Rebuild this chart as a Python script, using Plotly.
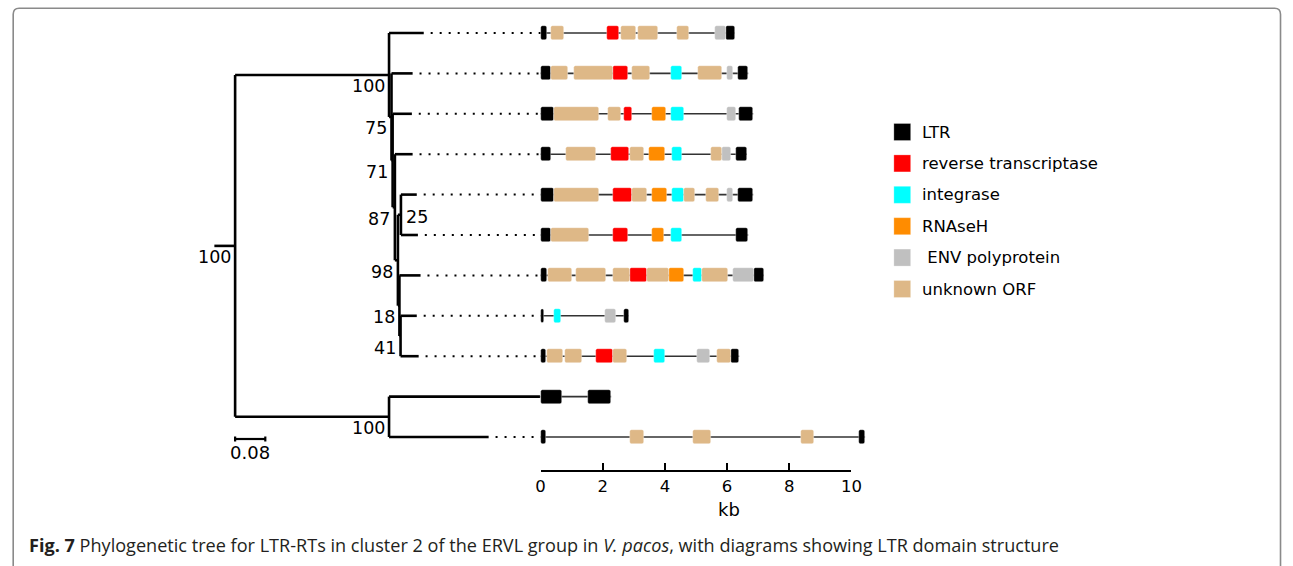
import plotly.graph_objects as go

W, H = 1293, 566

# ---------------- data ----------------
# phylogenetic tree (parent links and branch lengths, substitutions/site)
node_names = ["root", "A", "B", "C", "D", "E", "F", "G", "H", "K",
              "L1", "L2", "L3", "L4", "L5", "L6", "L7", "L8", "L9", "L10", "L11"]
node_parents = [None, "root", "A", "B", "C", "D", "E", "E", "G", "root",
                "A", "B", "C", "D", "F", "F", "G", "H", "H", "K", "K"]
branch_lengths = [0.055, 0.408, 0.0065, 0.003, 0.006, 0.008, 0.008, 0.004, 0.003, 0.408,
                  0.092, 0.056, 0.051, 0.047, 0.042, 0.045, 0.056, 0.043, 0.048, 0.400, 0.264]
support_nodes = ["root", "A", "B", "C", "D", "E", "F", "G", "H", "K"]
support_values = ["100", "100", "75", "71", "87", "98", "25", "18", "41", "100"]
leaf_order = ["L1", "L2", "L3", "L4", "L5", "L6", "L7", "L8", "L9", "L10", "L11"]
scale_bar_length = 0.08

# element lengths (kb) per row
element_ends = [6.24, 6.68, 6.84, 6.64, 6.84, 6.68, 7.18, 2.83, 6.39, 2.27, 10.44]

# domains: (row, start kb, end kb)
ltr = [(0, 0, 0.21), (0, 5.95, 6.24), (1, 0, 0.32), (1, 6.35, 6.68),
       (2, 0, 0.43), (2, 6.39, 6.84), (3, 0, 0.32), (3, 6.30, 6.64),
       (4, 0, 0.43), (4, 6.35, 6.84), (5, 0, 0.32), (5, 6.30, 6.68),
       (6, 0, 0.21), (6, 6.88, 7.18), (7, 0, 0.12), (7, 2.68, 2.83),
       (8, 0, 0.17), (8, 6.14, 6.39), (9, 0, 0.68), (9, 1.53, 2.27),
       (10, 0, 0.16), (10, 10.26, 10.44)]
reverse_transcriptase = [(0, 2.13, 2.52), (1, 2.33, 2.82), (2, 2.68, 2.93), (3, 2.28, 2.83),
                         (4, 2.33, 2.93), (5, 2.33, 2.82), (6, 2.88, 3.42), (8, 1.77, 2.33)]
integrase = [(1, 4.19, 4.54), (2, 4.19, 4.63), (3, 4.24, 4.54), (4, 4.24, 4.63),
             (5, 4.19, 4.54), (6, 4.89, 5.18), (7, 0.43, 0.67), (8, 3.64, 3.99)]
rnaseh = [(2, 3.58, 4.03), (3, 3.49, 3.99), (4, 3.58, 4.07), (5, 3.58, 3.97), (6, 4.13, 4.63)]
env_polyprotein = [(0, 5.60, 5.95), (1, 5.99, 6.19), (2, 5.99, 6.29), (3, 5.84, 6.14),
                   (4, 5.99, 6.19), (6, 6.19, 6.88), (7, 2.08, 2.42), (8, 5.04, 5.44)]
unknown_orf = [(0, 0.32, 0.76), (0, 2.59, 3.07), (0, 3.13, 3.77), (0, 4.39, 4.78),
               (1, 0.33, 0.87), (1, 1.07, 2.33), (1, 2.94, 3.53), (1, 5.08, 5.83),
               (2, 0.43, 1.87), (2, 2.18, 2.58),
               (3, 0.83, 1.78), (3, 2.88, 3.33), (3, 5.49, 5.84),
               (4, 0.43, 1.87), (4, 2.93, 3.42), (4, 4.63, 4.98), (4, 5.33, 5.74),
               (5, 0.32, 1.57),
               (6, 0.24, 1.02), (6, 1.13, 2.12), (6, 2.33, 2.88), (6, 3.42, 4.13), (6, 5.18, 6.03),
               (8, 0.22, 0.72), (8, 0.78, 1.33), (8, 2.33, 2.78), (8, 5.69, 6.14),
               (10, 2.88, 3.33), (10, 4.89, 5.49), (10, 8.38, 8.80)]

legend_labels = ["LTR", "reverse transcriptase", "integrase", "RNAseH", " ENV polyprotein", "unknown ORF"]
kb_ticks = [0, 2, 4, 6, 8, 10]

# ---------------- styles / layout constants ----------------
domain_series = [ltr, reverse_transcriptase, integrase, rnaseh, env_polyprotein, unknown_orf]
domain_colors = ["#000000", "#ff0000", "#00ffff", "#ff8c00", "#c0c0c0", "#deb887"]

PX_ROOT, PX_PER_UNIT = 233.0, 382.0        # tree axis mapping
PX_KB0, PX_PER_KB = 542.3, 31.47           # kb axis mapping
ROW0_PX, PX_PER_ROW = 33.0, 40.4           # row mapping
AXIS_LINE_PX = 471.0
FONT = "DejaVu Sans"

# ---------------- tree layout ----------------
parent = dict(zip(node_names, node_parents))
blen = dict(zip(node_names, branch_lengths))
children = {n: [] for n in node_names}
for n, p in zip(node_names, node_parents):
    if p is not None:
        children[p].append(n)

depth = {}
def set_depth(n, d):
    depth[n] = d
    for c in children[n]:
        set_depth(c, d + blen[c])
set_depth("root", 0.0)

ypos = {leaf: i for i, leaf in enumerate(leaf_order)}
def set_y(n):
    if n in ypos:
        return ypos[n]
    ys = [set_y(c) for c in children[n]]
    ypos[n] = (min(ys) + max(ys)) / 2
    return ypos[n]
set_y("root")

tx, ty = [], []
for n in node_names:
    p = parent[n]
    if p is None:
        tx += [-blen[n], 0, None]
        ty += [ypos[n], ypos[n], None]
    else:
        tx += [depth[p], depth[n], None]
        ty += [ypos[n], ypos[n], None]
    if children[n]:
        cy = [ypos[c] for c in children[n]]
        tx += [depth[n], depth[n], None]
        ty += [min(cy), max(cy), None]

kb0_tree = (PX_KB0 - PX_ROOT) / PX_PER_UNIT
dx, dy = [], []
for leaf in leaf_order:
    tip = depth[leaf]
    if tip < kb0_tree - 0.01:
        dx += [tip + 7 / PX_PER_UNIT, kb0_tree, None]
        dy += [ypos[leaf], ypos[leaf], None]

fig = go.Figure()

fig.add_trace(go.Scatter(x=dx, y=dy, mode="lines", xaxis="x", yaxis="y",
                         line=dict(color="#000000", width=2, dash="2px,7px"),
                         hoverinfo="skip", showlegend=False))
fig.add_trace(go.Scatter(x=tx, y=ty, mode="lines", xaxis="x", yaxis="y",
                         line=dict(color="#000000", width=2.6),
                         hoverinfo="skip", showlegend=False))

# scale bar
sb_row = (439 - ROW0_PX) / PX_PER_ROW
tk = 2.5 / PX_PER_ROW
fig.add_trace(go.Scatter(x=[0, scale_bar_length, None, 0, 0, None, scale_bar_length, scale_bar_length],
                         y=[sb_row, sb_row, None, sb_row - tk, sb_row + tk, None, sb_row - tk, sb_row + tk],
                         mode="lines", xaxis="x", yaxis="y",
                         line=dict(color="#000000", width=2.2),
                         hoverinfo="skip", showlegend=False))

shapes = []
# backbones (below the domain boxes)
for r, e in enumerate(element_ends):
    shapes.append(dict(type="line", xref="x3", yref="y", x0=0, x1=e, y0=r, y1=r,
                       layer="below", line=dict(color="#333333", width=1.6)))

# domains
bar_w = 14 / PX_PER_ROW
for series, color, name in zip(domain_series, domain_colors, legend_labels):
    fig.add_trace(go.Bar(
        orientation="h",
        y=[s[0] for s in series],
        base=[s[1] for s in series],
        x=[s[2] - s[1] for s in series],
        width=bar_w,
        marker=dict(color=color, line=dict(color="rgba(255,255,255,0.6)", width=0.6)),
        xaxis="x3", yaxis="y", name=name.strip(), showlegend=False, hoverinfo="skip"))

# dummy trace for kb scale axis
fig.add_trace(go.Scatter(x=[0, 10], y=[None, None], xaxis="x2", yaxis="y",
                         mode="markers", hoverinfo="skip", showlegend=False))

annotations = []
for n, v in zip(support_nodes, support_values):
    if n == "F":
        annotations.append(dict(x=depth[n], y=ypos[n], xref="x", yref="y", text=v,
                                xanchor="left", yanchor="middle", xshift=3, yshift=-2,
                                showarrow=False, font=dict(size=17.5, color="#000000", family=FONT)))
    else:
        annotations.append(dict(x=depth[n], y=ypos[n], xref="x", yref="y", text=v,
                                xanchor="right", yanchor="middle", xshift=-2.5, yshift=-11.5,
                                showarrow=False, font=dict(size=17.5, color="#000000", family=FONT)))

annotations.append(dict(x=scale_bar_length / 2, y=sb_row, xref="x", yref="y", text="0.08",
                        xanchor="center", yanchor="middle", yshift=-13, showarrow=False,
                        font=dict(size=18, color="#000000", family=FONT)))

def px2paper_x(px):
    return px / W

def px2paper_y(py):
    return 1 - py / H

# kb label
annotations.append(dict(x=px2paper_x(733.5), y=px2paper_y(509), xref="paper", yref="paper",
                        text="kb", xanchor="center", yanchor="middle", showarrow=False,
                        font=dict(size=18, color="#000000", family=FONT)))

LEG_X0, LEG_SIZE, LEG_Y0, LEG_DY = 900, 17, 132, 31.4
for i, (lab, col) in enumerate(zip(legend_labels, domain_colors)):
    cy = LEG_Y0 + i * LEG_DY
    shapes.append(dict(type="rect", xref="paper", yref="paper",
                       x0=px2paper_x(LEG_X0), x1=px2paper_x(LEG_X0 + LEG_SIZE),
                       y0=px2paper_y(cy - LEG_SIZE / 2), y1=px2paper_y(cy + LEG_SIZE / 2),
                       fillcolor=col, line=dict(color="rgba(255,255,255,0.5)", width=0.5)))
    annotations.append(dict(x=px2paper_x(LEG_X0 + 26), y=px2paper_y(cy), xref="paper", yref="paper",
                            text=lab, xanchor="left", yanchor="middle", showarrow=False,
                            font=dict(size=16.5, color="#000000", family=FONT)))

# frame
fl, ft, fr, fb, rad = 8.3, 8.3, 1291.5, 580, 6
path = (f"M {px2paper_x(fl)},{px2paper_y(fb)} L {px2paper_x(fl)},{px2paper_y(ft + rad)} "
        f"Q {px2paper_x(fl)},{px2paper_y(ft)} {px2paper_x(fl + rad)},{px2paper_y(ft)} "
        f"L {px2paper_x(fr - rad)},{px2paper_y(ft)} "
        f"Q {px2paper_x(fr)},{px2paper_y(ft)} {px2paper_x(fr)},{px2paper_y(ft + rad)} "
        f"L {px2paper_x(fr)},{px2paper_y(fb)}")
shapes.append(dict(type="path", xref="paper", yref="paper", path=path,
                   line=dict(color="#8a8a8a", width=1.6)))

annotations.append(dict(x=px2paper_x(22), y=px2paper_y(545), xref="paper", yref="paper",
                        text="<b>Fig. 7</b> Phylogenetic tree for LTR-RTs in cluster 2 of the ERVL group in "
                             "<i>V. pacos</i>, with diagrams showing LTR domain structure",
                        xanchor="left", yanchor="middle", showarrow=False,
                        font=dict(size=18.1, color="#231f20", family="Open Sans")))

fig.update_layout(
    width=W, height=H, autosize=False,
    margin=dict(l=0, r=0, t=0, b=0, pad=0),
    paper_bgcolor="#ffffff", plot_bgcolor="rgba(0,0,0,0)",
    font=dict(family=FONT, color="#000000"),
    barmode="overlay", barcornerradius=2, bargap=0,
    showlegend=False,
    xaxis=dict(domain=[0, 1], range=[(0 - PX_ROOT) / PX_PER_UNIT, (W - PX_ROOT) / PX_PER_UNIT],
               visible=False, fixedrange=True),
    xaxis3=dict(domain=[0, 1], overlaying="x", anchor="y",
                range=[(0 - PX_KB0) / PX_PER_KB, (W - PX_KB0) / PX_PER_KB],
                visible=False, fixedrange=True),
    xaxis2=dict(domain=[PX_KB0 / W, (PX_KB0 + 10 * PX_PER_KB) / W], range=[0, 10],
                anchor="free", position=1 - AXIS_LINE_PX / H, side="bottom",
                showline=True, linecolor="#000000", linewidth=2.2,
                ticks="inside", ticklen=7, tickwidth=2, tickcolor="#000000",
                tickvals=kb_ticks, ticktext=[str(t) for t in kb_ticks],
                tickfont=dict(size=16.5, color="#000000", family=FONT),
                showgrid=False, zeroline=False, fixedrange=True),
    yaxis=dict(domain=[0, 1], range=[(H - ROW0_PX) / PX_PER_ROW, (0 - ROW0_PX) / PX_PER_ROW],
               visible=False, fixedrange=True),
    shapes=shapes,
    annotations=annotations,
)

fig.write_html("out.html")
